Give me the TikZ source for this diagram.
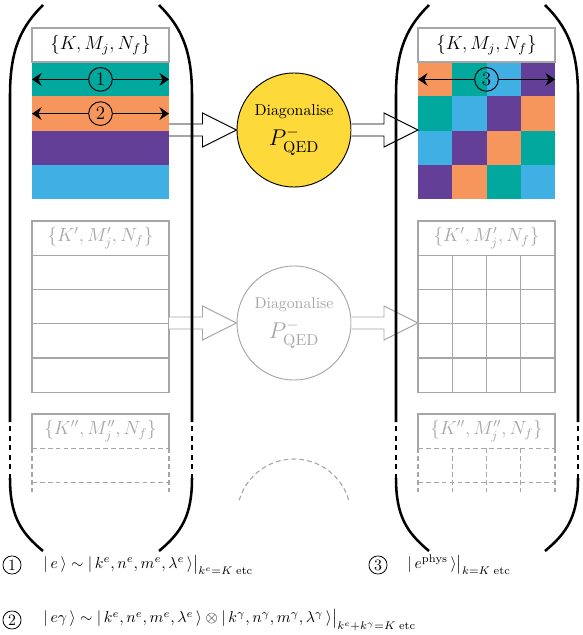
\documentclass[tikz,border=0pt]{standalone}
\usepackage{amsmath}
\usepackage{tikz}
\usetikzlibrary{calc,arrows.meta}
\definecolor{eteal}{RGB}{0,168,157}
\definecolor{eorange}{RGB}{247,150,92}
\definecolor{epurple}{RGB}{100,63,152}
\definecolor{esky}{RGB}{64,175,228}
\definecolor{diagyellow}{RGB}{254,217,58}
\colorlet{ghost}{black!35}
\newcommand{\capsulewall}[1]{%
  \begin{scope}[shift={(#1,0)}]
    \draw[wall] (43,5) .. controls (22,26) and (10,48) .. (10,95) -- (10,422);
    \draw[wall, walldash] (10,422) -- (10,478);
    \draw[wall] (10,478) .. controls (10,515) and (20,532) .. (43,551);
    \draw[wall] (159,5) .. controls (180,26) and (192,48) .. (192,95) -- (192,422);
    \draw[wall, walldash] (192,422) -- (192,478);
    \draw[wall] (192,478) .. controls (192,515) and (182,532) .. (159,551);
  \end{scope}}
\newcommand{\fatarrow}[3]{%
  \draw[#1, fill=white] ($(#2)+(0,-6)$) -- ($(#3)+(-34,-6)$) -- ($(#3)+(-34,-17)$)
    -- (#3) -- ($(#3)+(-34,17)$) -- ($(#3)+(-34,6)$) -- ($(#2)+(0,6)$);}

\begin{document}
\begin{tikzpicture}[x=0.633pt, y=-0.633pt,
  wall/.style={line width=1.6pt},
  walldash/.style={dash pattern=on 3.4pt off 2.6pt, dash phase=3.4pt},
  hdrline/.style={draw=ghost, line width=1.3pt},
  ghostline/.style={draw=ghost, line width=0.7pt},
  ghostdash/.style={draw=ghost, line width=0.7pt, dash pattern=on 3pt off 2pt},
  hdrtext/.style={inner sep=0pt, font=\large},
  numcirc/.style={circle, draw, line width=0.6pt, minimum size=15pt, inner sep=0pt, font=\large},
  legcirc/.style={circle, draw, line width=0.5pt, minimum size=11.5pt, inner sep=0pt},
  diag/.style={circle, draw, line width=0.6pt, minimum size=72.2pt, inner sep=0pt, align=center},
  rowarrow/.style={line width=0.8pt, -{Stealth[length=6pt, width=8pt]}}]
  \useasboundingbox (0,0) rectangle (582,635);

  % first block: K, M_j, N_f
  \foreach \c [count=\i from 0] in {eteal,eorange,epurple,esky}
    \fill[\c] (32,62.25+34.25*\i) rectangle ++(137,34.25);
  \foreach \row [count=\i from 0] in {{eorange,eteal,esky,epurple},{eteal,esky,epurple,eorange},{esky,epurple,eorange,eteal},{epurple,eorange,eteal,esky}}
    \foreach \c [count=\j from 0] in \row
      \fill[\c] (418+34.25*\j,62.25+34.25*\i) rectangle ++(34.25,34.25);
  \draw[hdrline] (32,28) rectangle (169,62.25);
  \draw[hdrline] (418,28) rectangle (555,62.25);
  \node[hdrtext] (hdrAl) at (100.5,45) {$\{K, M_j, N_f\}$};
  \node[hdrtext] (hdrAr) at (486.5,45) {$\{K, M_j, N_f\}$};

  \coordinate (rowAw) at (32,79.4);
  \coordinate (rowAe) at (169,79.4);
  \coordinate (rowBw) at (32,113.6);
  \coordinate (rowBe) at (169,113.6);
  \coordinate (rowCw) at (418,79.4);
  \coordinate (rowCe) at (555,79.4);
  \node[numcirc] (numA) at (100.5,79.4) {1};
  \node[numcirc] (numB) at (100.5,113.6) {2};
  \node[numcirc] (numC) at (486.5,79.4) {3};
  \draw[rowarrow] (numA) -- (rowAw);
  \draw[rowarrow] (numA) -- (rowAe);
  \draw[rowarrow] (numB) -- (rowBw);
  \draw[rowarrow] (numB) -- (rowBe);
  \draw[rowarrow] (numC) -- (rowCw);
  \draw[rowarrow] (numC) -- (rowCe);

  \node[diag, fill=diagyellow] (diagA) at (294,130) {Diagonalise\\[4pt]{\Large$P^{-}_{\mathrm{QED}}$}};
  \coordinate (outA) at (169,130);
  \coordinate (inA) at (418,130);
  \fatarrow{draw=black, line width=0.6pt}{outA}{diagA.west}
  \fatarrow{draw=black, line width=0.6pt}{diagA.east}{inA}

  % second block: primed
  \draw[ghostline] (32,221) rectangle (169,392.25);
  \draw[ghostline] (418,221) rectangle (555,392.25);
  \foreach \k in {1,...,4} {
    \draw[ghostline] (32,221+34.25*\k) -- (169,221+34.25*\k);
    \draw[ghostline] (418,221+34.25*\k) -- (555,221+34.25*\k);}
  \foreach \k in {1,2,3}
    \draw[ghostline] (418+34.25*\k,255.25) -- (418+34.25*\k,392.25);
  \node[hdrtext, text=ghost] (hdrBl) at (100.5,238) {$\{K', M'_j, N_f\}$};
  \node[hdrtext, text=ghost] (hdrBr) at (486.5,238) {$\{K', M'_j, N_f\}$};

  \node[diag, draw=ghost, text=ghost] (diagB) at (294,323) {Diagonalise\\[4pt]{\Large$P^{-}_{\mathrm{QED}}$}};
  \coordinate (outB) at (169,323);
  \coordinate (inB) at (418,323);
  \fatarrow{draw=ghost, line width=0.6pt}{outB}{diagB.west}
  \fatarrow{draw=ghost, line width=0.6pt}{diagB.east}{inB}

  % third block: double primed
  \draw[ghostline] (32,448.25) -- (32,414) -- (169,414) -- (169,448.25);
  \draw[ghostline] (418,448.25) -- (418,414) -- (555,414) -- (555,448.25);
  \foreach \y in {448.25,482.5} {
    \draw[ghostdash] (32,\y) -- (169,\y);
    \draw[ghostdash] (418,\y) -- (555,\y);}
  \foreach \x in {32,169}
    \draw[ghostdash] (\x,448.25) -- (\x,493);
  \foreach \k in {0,...,4}
    \draw[ghostdash] (418+34.25*\k,448.25) -- (418+34.25*\k,493);
  \node[hdrtext, text=ghost] (hdrCl) at (100.5,431) {$\{K'', M''_j, N_f\}$};
  \node[hdrtext, text=ghost] (hdrCr) at (486.5,431) {$\{K'', M''_j, N_f\}$};
  \draw[ghostdash] (294,516) ++(-164:57) arc[start angle=-164, end angle=-16, radius=57];

  \capsulewall{0}
  \capsulewall{386}

  % legend
  \node[legcirc] (legA) at (12,565) {1};
  \node[anchor=west] (legAtxt) at (38,565) {$|\,e\,\rangle \sim |\,k^e, n^e, m^e, \lambda^e\,\rangle\big|_{k^e=K\;\mathrm{etc}}$};
  \node[legcirc] (legB) at (12,620) {2};
  \node[anchor=west] (legBtxt) at (38,620) {$|\,e\gamma\,\rangle \sim |\,k^e, n^e, m^e, \lambda^e\,\rangle \otimes |\,k^\gamma, n^\gamma, m^\gamma, \lambda^\gamma\,\rangle\big|_{k^e+k^\gamma=K\;\mathrm{etc}}$};
  \node[legcirc] (legC) at (378,565) {3};
  \node[anchor=west] (legCtxt) at (402,565) {$|\,e^{\mathrm{phys}}\,\rangle\big|_{k=K\;\mathrm{etc}}$};
\end{tikzpicture}
\end{document}
